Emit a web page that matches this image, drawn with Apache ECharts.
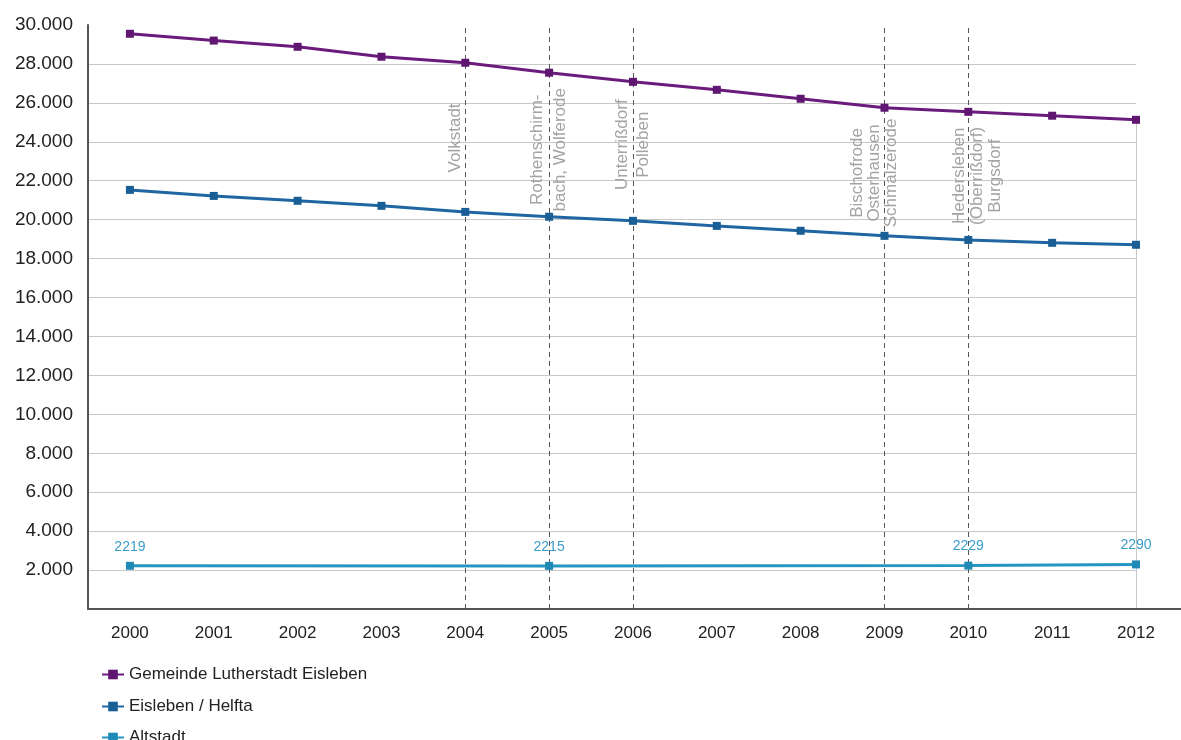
<!DOCTYPE html>
<html>
<head>
<meta charset="utf-8">
<script src="https://cdn.jsdelivr.net/npm/echarts@6/dist/echarts.min.js"></script>
<style>
  html, body { margin: 0; padding: 0; background: #fff; }
  #chart { width: 1181px; height: 740px; }
</style>
</head>
<body>
<div id="chart"></div>
<script>
// Einwohnerentwicklung 2000–2012
const years = [2000, 2001, 2002, 2003, 2004, 2005, 2006, 2007, 2008, 2009, 2010, 2011, 2012];
const gemeinde = [29550, 29200, 28880, 28370, 28060, 27550, 27080, 26670, 26210, 25750, 25540, 25340, 25130];
const eislebenHelfta = [21530, 21220, 20970, 20710, 20400, 20150, 19940, 19680, 19430, 19170, 18960, 18810, 18710];
const altstadt = [2219, null, null, null, null, 2215, null, null, null, null, 2229, null, 2290];
const seriesNames = ['Gemeinde Lutherstadt Eisleben', 'Eisleben / Helfta', 'Altstadt'];

// Eingemeindungen (Jahr, Ortsteile)
const incorporationYears = [2004, 2005, 2006, 2009, 2010];
const incorporationNames = [
  'Volkstadt',
  'Rothenschirm-\nbach, Wolferode',
  'Unterrißdorf\nPolleben',
  'Bischofrode\nOsterhausen\nSchmalzerode',
  'Hedersleben\n(Oberrißdorf)\nBurgsdorf'
];
// label placement: horizontal shift (px), vertical centre (axis value), line height
const labelLayout = [
  { dx: -10, y: 24200, lh: 17 },
  { dx: 0, y: 23590, lh: 23 },
  { dx: 0, y: 23850, lh: 21 },
  { dx: -10, y: 22400, lh: 17 },
  { dx: 9, y: 22250, lh: 18 }
];

const FONT = '"Liberation Sans", Arial, sans-serif';
const pxPerYear = 83.84;

const fmtThousands = v => String(v).replace(/\B(?=(\d{3})+(?!\d))/g, '.');
const toPairs = arr => years.map((y, i) => [y, arr[i]]).filter(p => p[1] !== null);

const chart = echarts.init(document.getElementById('chart'), null, { renderer: 'canvas' });

// one legend block per row, stacked at the bottom left
const legendTops = [661, 693, 724];
const legends = seriesNames.map((name, i) => ({
  orient: 'vertical',
  left: 96,
  top: legendTops[i],
  itemWidth: 22,
  itemHeight: 12,
  itemGap: 10,
  textStyle: { fontFamily: FONT, fontSize: 17, color: '#222' },
  data: [name]
}));

const option = {
  backgroundColor: '#ffffff',
  animation: false,
  textStyle: { fontFamily: FONT },
  grid: { left: 88, right: 45, top: 25, bottom: 131, containLabel: false },
  legend: legends,
  xAxis: {
    type: 'value',
    min: 1999.5,
    max: 2012,
    axisLine: { show: true, lineStyle: { color: '#555', width: 2 } },
    axisTick: { show: false },
    splitLine: { show: false },
    axisLabel: {
      customValues: years,
      formatter: v => String(v),
      color: '#222',
      fontSize: 17,
      fontFamily: FONT,
      margin: 16
    }
  },
  yAxis: {
    type: 'value',
    min: 0,
    max: 30000,
    interval: 2000,
    axisLine: { show: true, lineStyle: { color: '#555', width: 2 } },
    axisTick: { show: false },
    axisLabel: {
      showMinLabel: false,
      formatter: v => fmtThousands(v),
      color: '#222',
      fontSize: 19,
      fontFamily: FONT,
      margin: 15
    },
    splitLine: {
      show: true,
      showMinLine: false,
      showMaxLine: false,
      lineStyle: { color: '#c8c8c8', width: 1 }
    }
  },
  series: [
    {
      name: seriesNames[0],
      type: 'line',
      data: toPairs(gemeinde),
      symbol: 'rect',
      symbolSize: 8,
      color: '#6a1b7c',
      lineStyle: { width: 3, color: '#6a1b7c' },
      itemStyle: { color: '#5e1670' },
      z: 5,
      markLine: {
        silent: true,
        symbol: 'none',
        label: { show: false },
        lineStyle: { type: 'solid', color: '#c8c8c8', width: 1 },
        data: [
          [{ coord: [years[years.length - 1], gemeinde[gemeinde.length - 1]] },
           { coord: [years[years.length - 1], 0] }]
        ]
      }
    },
    {
      name: seriesNames[1],
      type: 'line',
      data: toPairs(eislebenHelfta),
      symbol: 'rect',
      symbolSize: 8,
      color: '#1f66a2',
      lineStyle: { width: 3, color: '#1f66a2' },
      itemStyle: { color: '#1a5e96' },
      z: 5,
      markLine: {
        silent: true,
        symbol: 'none',
        label: { show: false },
        lineStyle: { type: [5, 4], color: '#555', width: 1 },
        data: incorporationYears.map(y => ({ xAxis: y }))
      },
      markPoint: {
        silent: true,
        symbol: 'rect',
        symbolSize: 0,
        data: incorporationYears.map((y, i) => ({
          coord: [y + labelLayout[i].dx / pxPerYear, labelLayout[i].y],
          label: {
            show: true,
            position: 'inside',
            rotate: 90,
            formatter: incorporationNames[i],
            align: 'center',
            verticalAlign: 'middle',
            color: '#a3a3a3',
            fontSize: 17,
            lineHeight: labelLayout[i].lh,
            fontFamily: FONT
          }
        }))
      }
    },
    {
      name: seriesNames[2],
      type: 'line',
      data: toPairs(altstadt),
      symbol: 'rect',
      symbolSize: 8,
      color: '#2596c2',
      lineStyle: { width: 3, color: '#2596c2' },
      itemStyle: { color: '#1f8ab5' },
      z: 5,
      label: {
        show: true,
        position: 'top',
        distance: 8,
        color: '#3a9ccb',
        fontSize: 14,
        fontFamily: FONT,
        formatter: p => String(p.value[1])
      }
    }
  ]
};

chart.setOption(option);

// extend the baseline to the right edge of the canvas
const base = chart.convertToPixel({ gridIndex: 0 }, [2012, 0]);
chart.setOption({
  graphic: [{
    type: 'line',
    silent: true,
    shape: { x1: base[0], y1: base[1], x2: 1181, y2: base[1] },
    style: { stroke: '#555', lineWidth: 2 },
    z: 10
  }]
});
</script>
</body>
</html>
